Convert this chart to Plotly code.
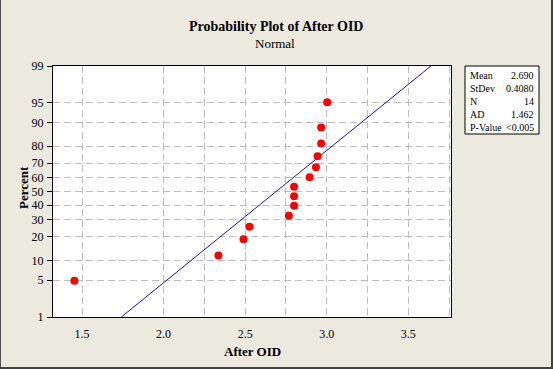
import plotly.graph_objects as go
from statistics import NormalDist

# ---- data ----
after_oid = [1.453, 2.336, 2.49, 2.526, 2.768, 2.80, 2.80, 2.80, 2.895, 2.934, 2.944, 2.966, 2.966, 3.003]
percent = [4.9, 11.8, 18.8, 25.7, 32.6, 39.6, 46.5, 53.5, 60.4, 67.4, 74.3, 81.3, 88.2, 95.1]
y_ticks = [1, 5, 10, 20, 30, 40, 50, 60, 70, 80, 90, 95, 99]
x_grid = [1.5, 2.0, 2.25, 2.5, 2.75, 3.0, 3.25, 3.5, 3.75]
x_labels = ["1.5", "2.0", "", "2.5", "", "3.0", "", "3.5", ""]
stat_names = ["Mean", "StDev", "N", "AD", "P-Value"]
stat_values = ["2.690", "0.4080", "14", "1.462", "<0.005"]
mean_val = 2.690
sd_val = 0.4080

nd = NormalDist()
z = lambda p: nd.inv_cdf(p / 100.0)

W, H = 553, 369
L, T, R, B = 53, 66, 451, 317
pw, ph = R - L, B - T
px = lambda x: (x - L) / pw
py = lambda y: (B - y) / ph

BG = "#ECE9DF"
FONT = "Liberation Serif"
GRID = "#BEBEBE"
DASH = "7px,4px"

fig = go.Figure()

# fitted normal line
fit_p = [1, 99]
fig.add_trace(go.Scatter(
    x=[mean_val + sd_val * z(p) for p in fit_p],
    y=[z(p) for p in fit_p],
    mode="lines", line=dict(color="#1818A8", width=1),
    hoverinfo="skip", showlegend=False))

fig.add_trace(go.Scatter(
    x=after_oid, y=[z(p) for p in percent],
    mode="markers", marker=dict(color="#FF0000", size=8, line=dict(width=0)),
    showlegend=False))

fig.update_layout(
    width=W, height=H,
    margin=dict(l=L, r=W - R, t=T, b=H - B, pad=0),
    paper_bgcolor=BG, plot_bgcolor="white",
    font=dict(family=FONT, color="black", size=12),
    showlegend=False,
)

fig.update_xaxes(
    range=[1.322, 3.762], tickvals=x_grid, ticktext=x_labels,
    ticks="", ticklabelstandoff=6, tickfont=dict(size=12, family=FONT),
    showgrid=True, gridcolor=GRID, griddash=DASH, gridwidth=1,
    showline=True, linecolor="black", linewidth=1, mirror=True, zeroline=False,
)
fig.update_yaxes(
    range=[z(1), z(99)], tickvals=[z(p) for p in y_ticks], ticktext=[str(p) for p in y_ticks],
    ticks="outside", ticklen=5, tickcolor="black", ticklabelstandoff=1,
    tickfont=dict(size=12, family=FONT),
    showgrid=True, gridcolor=GRID, griddash=DASH, gridwidth=1,
    showline=True, linecolor="black", linewidth=1, mirror=True, zeroline=False,
)

ann = []
ann.append(dict(text="<b>Probability Plot of After OID</b>", x=px(276), y=py(27),
                xref="paper", yref="paper", showarrow=False, font=dict(size=14, family=FONT),
                xanchor="center", yanchor="middle"))
ann.append(dict(text="Normal", x=px(275), y=py(43), xref="paper", yref="paper", showarrow=False,
                font=dict(size=13, family=FONT), xanchor="center", yanchor="middle"))
ann.append(dict(text="<b>After OID</b>", x=px(252), y=py(352), xref="paper", yref="paper",
                showarrow=False, font=dict(size=13, family=FONT), xanchor="center", yanchor="middle"))
ann.append(dict(text="<b>Percent</b>", x=px(23), y=py(188), xref="paper", yref="paper",
                showarrow=False, textangle=-90, font=dict(size=13, family=FONT),
                xanchor="center", yanchor="middle"))

# stats box
bx0, bx1, by0, by1 = 465, 539, 66, 134
row_y = [75.5, 88.5, 101.5, 114.5, 127.5]
for name, val, ry in zip(stat_names, stat_values, row_y):
    ann.append(dict(text=name, x=px(bx0 + 3), y=py(ry), xref="paper", yref="paper", showarrow=False,
                    font=dict(size=10, family=FONT), xanchor="left", yanchor="middle"))
    ann.append(dict(text=val, x=px(bx1 - 3), y=py(ry), xref="paper", yref="paper", showarrow=False,
                    font=dict(size=10, family=FONT), xanchor="right", yanchor="middle"))
fig.update_layout(annotations=ann)

shapes = [
    dict(type="rect", xref="paper", yref="paper", x0=px(bx0), x1=px(bx1), y0=py(by0), y1=py(by1),
         line=dict(color="black", width=1), fillcolor="white", layer="below"),
    # outer frame (inset look)
    dict(type="line", xref="paper", yref="paper", x0=px(0.5), x1=px(0.5), y0=py(0), y1=py(H),
         line=dict(color="#505050", width=1)),
    dict(type="line", xref="paper", yref="paper", x0=px(W - 1), x1=px(W - 1), y0=py(0), y1=py(H),
         line=dict(color="#404040", width=2)),
    dict(type="line", xref="paper", yref="paper", x0=px(0), x1=px(W), y0=py(H - 1), y1=py(H - 1),
         line=dict(color="#404040", width=2)),
]
fig.update_layout(shapes=shapes)

fig.write_html("out.html", config={"displayModeBar": False},
               post_script="document.body.style.margin='0';document.body.style.overflow='hidden';")
